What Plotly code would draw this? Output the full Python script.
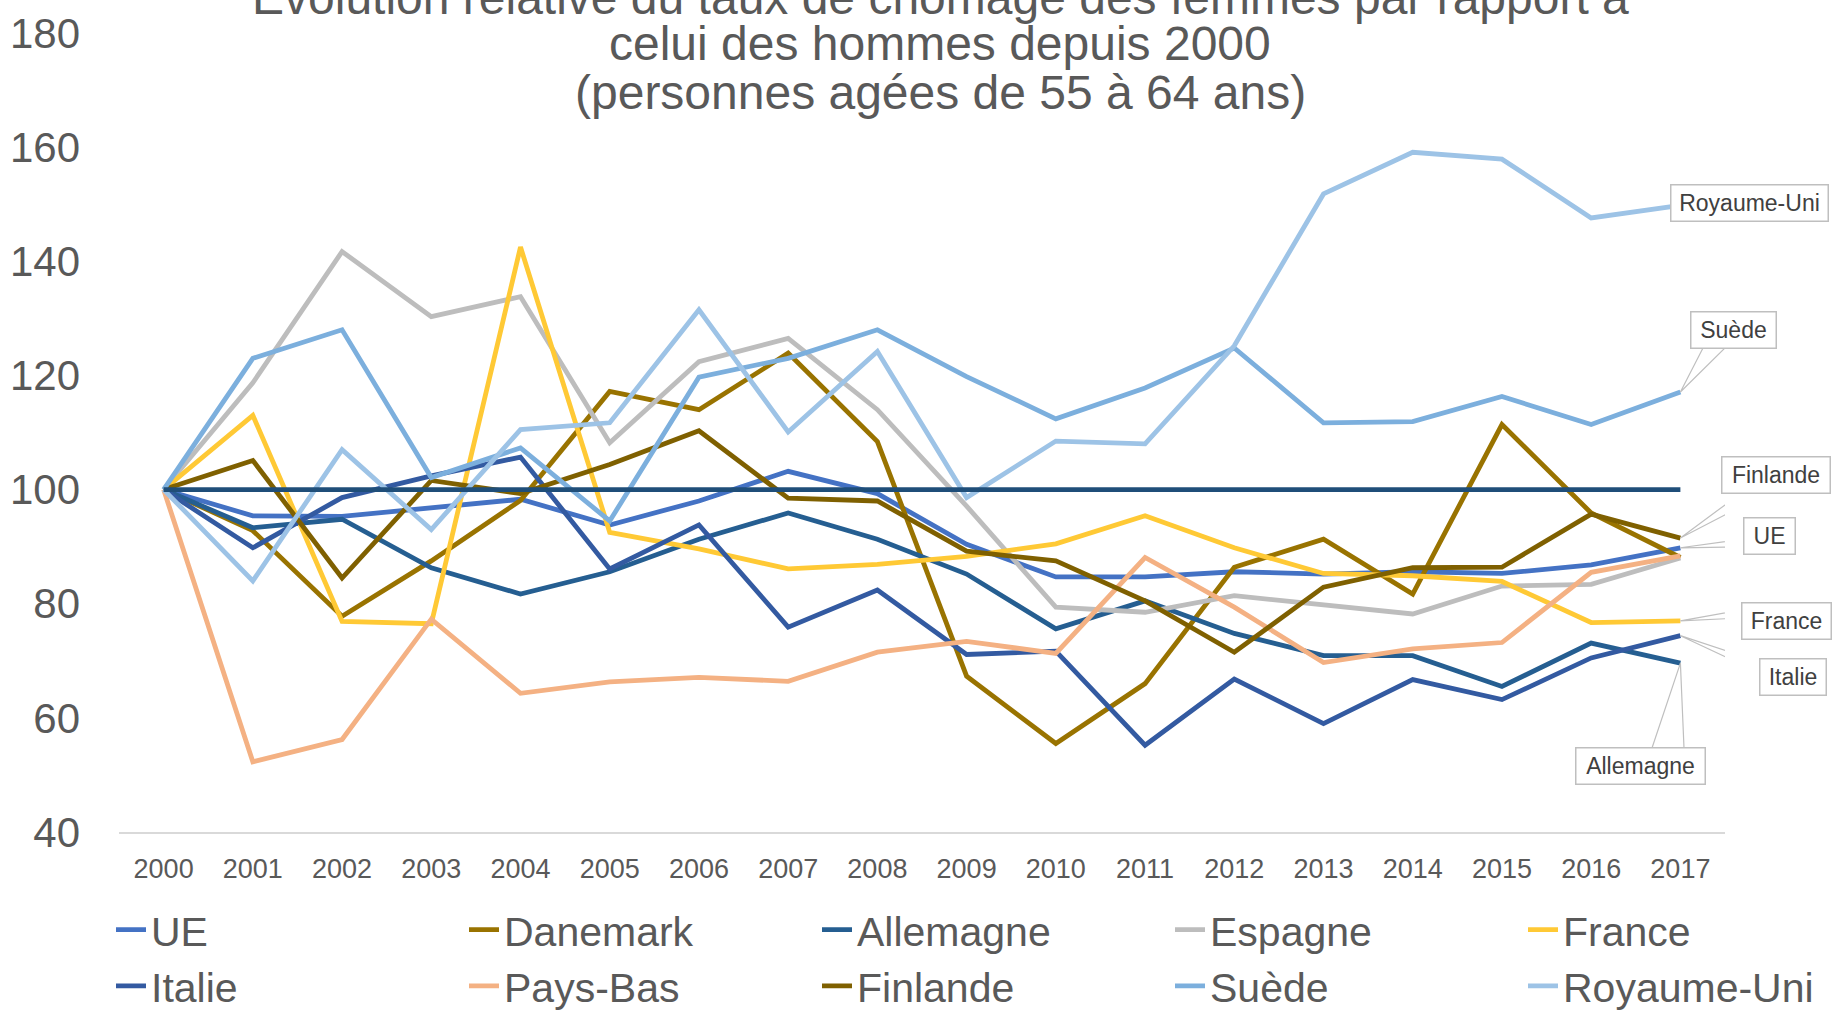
import plotly.graph_objects as go

years = list(range(2000, 2018))

UE = [100, 95.4, 95.3, 96.7, 98.3, 93.8, 98.0, 103.2, 99.3, 90.4, 84.7, 84.7, 85.6, 85.2, 85.6, 85.3, 86.8, 89.8]
Danemark = [100, 92.8, 77.8, 87.5, 98.1, 117.2, 114.0, 123.9, 108.4, 67.3, 55.5, 66.0, 86.4, 91.3, 81.7, 111.4, 95.9, 88.1]
Allemagne = [100, 93.3, 94.8, 86.3, 81.7, 85.6, 91.3, 95.9, 91.3, 85.2, 75.6, 80.5, 74.8, 70.9, 70.9, 65.5, 73.1, 69.6]
Espagne = [100, 118.7, 141.7, 130.3, 133.8, 108.2, 122.4, 126.5, 114.0, 97.1, 79.4, 78.5, 81.4, 79.7, 78.2, 83.1, 83.4, 88.0]
France = [100, 113.0, 76.9, 76.5, 142.5, 92.5, 89.6, 86.1, 86.9, 88.3, 90.5, 95.4, 89.8, 85.3, 84.9, 83.9, 76.7, 77.0]
Italie = [100, 89.8, 98.6, 102.4, 105.7, 86.1, 93.8, 75.9, 82.4, 71.1, 71.7, 55.2, 66.8, 59.0, 66.7, 63.2, 70.5, 74.4]
PaysBas = [100, 52.3, 56.2, 77.3, 64.3, 66.3, 67.1, 66.4, 71.5, 73.4, 71.3, 88.1, 79.4, 69.7, 72.1, 73.2, 85.5, 88.4]
Finlande = [100, 105.1, 84.5, 101.6, 99.3, 104.4, 110.3, 98.5, 98.0, 89.2, 87.5, 80.5, 71.5, 82.9, 86.3, 86.4, 95.7, 91.5]
Suede = [100, 123.0, 128.0, 102.1, 107.3, 94.5, 119.7, 123.0, 128.0, 119.8, 112.4, 117.8, 124.8, 111.7, 111.9, 116.3, 111.4, 117.1]
RoyaumeUni = [100, 84.0, 107.0, 93.0, 110.5, 111.7, 131.5, 110.1, 124.2, 98.6, 108.5, 108.0, 125.2, 151.8, 159.1, 157.9, 147.6, 149.8]
Reference = [100] * 18

# name, values, colour, legend column
series = [
    ("UE", UE, "#4472C4", "legend"),
    ("Danemark", Danemark, "#997300", "legend2"),
    ("Allemagne", Allemagne, "#255E91", "legend3"),
    ("Espagne", Espagne, "#BDBDBD", "legend4"),
    ("France", France, "#FFC935", "legend5"),
    ("Italie", Italie, "#335AA1", "legend"),
    ("Pays-Bas", PaysBas, "#F4B183", "legend2"),
    ("Finlande", Finlande, "#7F6000", "legend3"),
    ("Suède", Suede, "#7CAFDD", "legend4"),
    ("Royaume-Uni", RoyaumeUni, "#9DC3E6", "legend5"),
]

title_lines = [
    "Évolution relative du taux de chômage des femmes par rapport à",
    "celui des hommes depuis 2000",
    "(personnes agées de 55 à 64 ans)",
]

FONT = "Liberation Sans, Arial, sans-serif"
W, H = 1833, 1013
L, R, T, B = 119, 108, 33, 181
PW, PH = W - L - R, H - T - B
YMIN, YMAX = 40, 180
XMIN, XMAX = 1999.5, 2017.5


def px_to_x(px):
    return XMIN + (px - L) / PW * (XMAX - XMIN)


def py_to_y(py):
    return YMAX - (py - T) / PH * (YMAX - YMIN)


fig = go.Figure()
for name, vals, color, leg in series:
    fig.add_trace(go.Scatter(
        x=years, y=vals, mode="lines", name=name,
        line=dict(color=color, width=4.8),
        legend=leg,
    ))
fig.add_trace(go.Scatter(
    x=years, y=Reference, mode="lines", name="Référence",
    line=dict(color="#1F4E79", width=4.8), showlegend=False,
))

# Title lines (first one partly cut by the top edge, as in the reference)
for txt, py in zip(title_lines, [-3, 43, 92]):
    fig.add_annotation(
        text=txt, xref="paper", yref="paper",
        x=(940 - L) / PW, y=(H - B - py) / PH,
        xanchor="center", yanchor="middle", showarrow=False,
        font=dict(family=FONT, size=48, color="#595959"),
    )

# End labels: (text, series values, box centre px, box width, leader anchors px)
labels = [
    ("Royaume-Uni", RoyaumeUni, (1749, 203), 152, None),
    ("Suède", Suede, (1733, 330), 80, [(1703, 348), (1725, 348)]),
    ("Finlande", Finlande, (1776, 475), 103, [(1741, 493), (1767, 493)]),
    ("UE", UE, (1769, 536), 46, [(1743, 539), (1743, 547)]),
    ("France", France, (1786, 621), 84, [(1741, 610), (1741, 618)]),
    ("Italie", Italie, (1793, 677), 61, [(1760, 662), (1760, 673)]),
    ("Allemagne", Allemagne, (1640, 766), 124, [(1652, 748), (1684, 748)]),
]
for txt, vals, (cx, cy), bw, anchors in labels:
    if anchors:
        (ax1, ay1), (ax2, ay2) = anchors
        path = "M {},{} L {},{} L {},{}".format(
            px_to_x(ax1), py_to_y(ay1), years[-1], vals[-1], px_to_x(ax2), py_to_y(ay2))
        fig.add_shape(type="path", path=path, xref="x", yref="y",
                      line=dict(color="#BFBFBF", width=1.2), layer="above")
    fig.add_annotation(
        text=txt, xref="paper", yref="paper",
        x=(cx - L) / PW, y=(H - B - cy) / PH,
        xanchor="center", yanchor="middle", showarrow=False,
        width=bw, height=31, borderpad=2,
        bordercolor="#BFBFBF", borderwidth=1.5, bgcolor="white",
        font=dict(family=FONT, size=23, color="#404040"),
    )

legend_common = dict(
    orientation="v",
    font=dict(family=FONT, size=41, color="#595959"),
    bgcolor="rgba(0,0,0,0)", xref="container", yref="container",
    xanchor="left", yanchor="middle", y=1 - 958 / H,
    tracegroupgap=0,
)
legend_layout = {}
for k, key in enumerate(["legend", "legend2", "legend3", "legend4", "legend5"]):
    legend_layout[key] = dict(**legend_common, x=(111 + 353 * k) / W)

fig.update_layout(
    width=W, height=H, autosize=False,
    margin=dict(l=L, r=R, t=T, b=B, pad=0, autoexpand=False),
    paper_bgcolor="white", plot_bgcolor="white",
    showlegend=True,
    **legend_layout,
    xaxis=dict(
        range=[XMIN, XMAX], tickmode="array", tickvals=years,
        ticktext=[str(y) for y in years],
        showgrid=False, zeroline=False, showline=True,
        linecolor="#D9D9D9", linewidth=1.5, ticks="",
        ticklabelstandoff=12,
        tickfont=dict(family=FONT, size=27, color="#595959"),
    ),
    yaxis=dict(
        range=[YMIN, YMAX], tickmode="array", tickvals=list(range(40, 181, 20)),
        showgrid=False, zeroline=False, showline=False, ticks="",
        ticklabelstandoff=38,
        tickfont=dict(family=FONT, size=42, color="#595959"),
    ),
)

fig.write_html(
    "out.html",
    config={"displayModeBar": False},
    post_script="document.body.style.margin='0';document.body.style.overflow='hidden';",
)
